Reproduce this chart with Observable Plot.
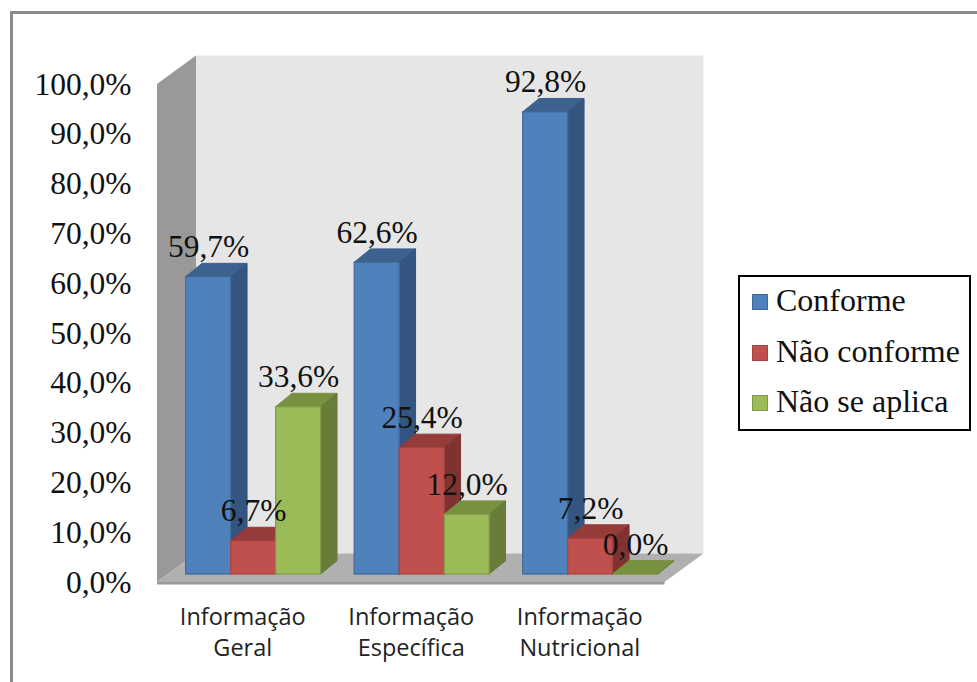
<!DOCTYPE html>
<html lang="pt">
<head>
<meta charset="utf-8">
<script src="https://cdn.jsdelivr.net/npm/d3@7"></script>
<script src="https://cdn.jsdelivr.net/npm/@observablehq/plot@0.6"></script>
<style>
  html, body { margin: 0; padding: 0; background: #fff; }
  #page { position: relative; width: 977px; height: 682px; overflow: hidden; }
  #frame { position: absolute; left: 10px; top: 11px; right: -10px; bottom: -10px; border-left: 3px solid #8a8a8a; border-top: 3px solid #8a8a8a; }
  #chart { position: absolute; left: 0; top: 0; }
  #legend { position: absolute; left: 738px; top: 275px; width: 229px; height: 152px; border: 2px solid #000; background: #fff;
            font: 32px "Liberation Serif", serif; color: #111; }
  .row { position: absolute; left: 12px; height: 34px; line-height: 34px; white-space: nowrap; }
  .swatch { position: absolute; left: 0; top: 9px; width: 14px; height: 14px; border-width: 1.5px; border-style: solid; }
  .row span.t { position: absolute; left: 24px; top: -2px; }
</style>
</head>
<body>
<div id="page">
  <div id="frame"></div>
  <div id="chart"></div>
  <div id="legend"></div>
</div>
<script>
const categories = ["Informação\nGeral", "Informação\nEspecífica", "Informação\nNutricional"];
const seriesNames = ["Conforme", "Não conforme", "Não se aplica"];
const conforme = [59.7, 62.6, 92.8];
const naoConforme = [6.7, 25.4, 7.2];
const naoSeAplica = [33.6, 12.0, 0.0];
const yTicks = [0, 10, 20, 30, 40, 50, 60, 70, 80, 90, 100];

const frontColors = ["#4f81bd", "#c0504d", "#9bbb59"];
const edgeColors  = ["#41699a", "#a5443f", "#7f9a48"];
const topColors   = ["#3e628f", "#953b39", "#77913f"];
const sideColors  = ["#34557f", "#7f3331", "#677d39"];

// Oblique projection: depth shift across the whole floor, in data units.
const DX = 0.2315, DY = 5.72;
const barPlane = 0.28, barDepthX = 0.42, barDepthY = 0.47, barWidth = 0.267;
const wallLeft = -0.006, wallRight = 3.006;
const seriesValues = [conforme, naoConforme, naoSeAplica];

const bars = categories.flatMap((c, i) => seriesValues.map((vals, s) => {
  const x1 = i + 0.5 + (s - 1.5) * barWidth + barPlane * DX;
  return { s, v: vals[i], x1, x2: x1 + barWidth, y0: barPlane * DY, y: vals[i] + barPlane * DY };
}));
const ddx = barDepthX * DX, ddy = barDepthY * DY;

const fmt = d => d.toFixed(1).replace(".", ",") + "%";
const serif = "'Liberation Serif', serif";

const barMarks = bars.flatMap(b => [
  Plot.areaX([{ y: b.y, a: b.x1, c: b.x2 }, { y: b.y + ddy, a: b.x1 + ddx, c: b.x2 + ddx }],
    { y: "y", x1: "a", x2: "c", fill: topColors[b.s], stroke: topColors[b.s], strokeWidth: 1 }),
  Plot.areaY([{ x: b.x2, a: b.y0, c: b.y }, { x: b.x2 + ddx, a: b.y0 + ddy, c: b.y + ddy }],
    { x: "x", y1: "a", y2: "c", fill: sideColors[b.s], stroke: sideColors[b.s], strokeWidth: 1 }),
  ...(b.v > 0 ? [Plot.rect([b], { x1: "x1", x2: "x2", y1: "y0", y2: "y",
    fill: frontColors[b.s], stroke: edgeColors[b.s], strokeWidth: 1.2 })] : [])
]);

const chart = Plot.plot({
  width: 977, height: 682,
  marginLeft: 157, marginRight: 0, marginTop: 0, marginBottom: 0,
  style: { background: "transparent", overflow: "visible" },
  x: { domain: [0, 3], range: [158, 663.5], axis: null },
  y: { domain: [0, 100], range: [582, 84], axis: null },
  marks: [
    // back wall
    Plot.rect([{}], { x1: wallLeft + DX, x2: wallRight + DX, y1: DY, y2: 100 + DY, fill: "#e6e6e6" }),
    // left wall
    Plot.areaY([{ x: wallLeft, a: 0, c: 100 }, { x: wallLeft + DX, a: DY, c: 100 + DY }],
      { x: "x", y1: "a", y2: "c", fill: "#999999" }),
    // floor and its front edge
    Plot.areaX([{ y: 0, a: wallLeft, c: wallRight }, { y: DY, a: wallLeft + DX, c: wallRight + DX }],
      { y: "y", x1: "a", x2: "c", fill: "#b0b0b0" }),
    Plot.rect([{}], { x1: wallLeft, x2: wallRight, y1: -0.5, y2: 0, fill: "#999999" }),
    ...barMarks,
    Plot.axisY({ ticks: yTicks, tickFormat: fmt, tickSize: 0, tickPadding: 26, label: null,
      fontSize: 31.5, fontFamily: serif, color: "#111", anchor: "left" }),
    Plot.text(categories, { x: (d, i) => i + 0.5, y: 0, dy: 48, text: d => d, textAnchor: "middle",
      lineAnchor: "middle", lineHeight: 1.33, fontSize: 23.5, fontFamily: "'Open Sans', sans-serif", fill: "#222" }),
    Plot.text(bars, { x: b => (b.x1 + b.x2) / 2, y: "y", text: b => fmt(b.v), dy: -30,
      lineAnchor: "middle", fontSize: 31.5, fontFamily: serif, fill: "#111" })
  ]
});
document.getElementById("chart").append(chart);

const legend = document.getElementById("legend");
seriesNames.forEach((name, s) => {
  const row = document.createElement("div");
  row.className = "row";
  row.style.top = (8 + s * 50.5) + "px";
  const sw = document.createElement("span");
  sw.className = "swatch";
  sw.style.background = frontColors[s];
  sw.style.borderColor = edgeColors[s];
  const t = document.createElement("span");
  t.className = "t";
  t.textContent = name;
  row.append(sw, t);
  legend.append(row);
});
</script>
</body>
</html>
